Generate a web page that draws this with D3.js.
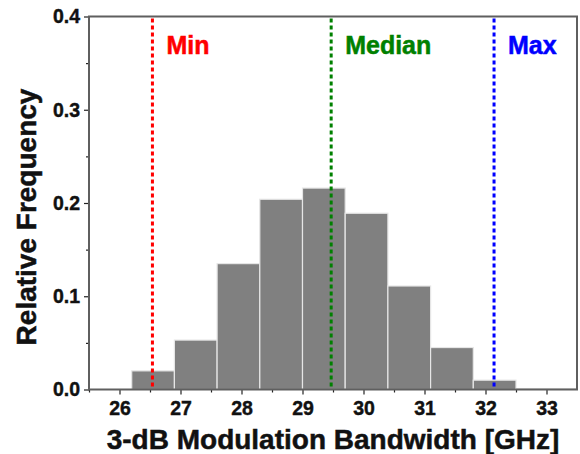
<!DOCTYPE html>
<html>
<head>
<meta charset="utf-8">
<script src="https://cdn.jsdelivr.net/npm/d3@7"></script>
<style>
  html, body { margin: 0; padding: 0; background: #fff; }
  svg { display: block; font-family: "Liberation Sans", Arial, sans-serif; }
</style>
</head>
<body>
<svg id="chart" width="580" height="454"></svg>
<script>
// Histogram bins (left edge in GHz, common width) and relative frequency
const binStarts = [26.2, 26.9, 27.6, 28.3, 29.0, 29.7, 30.4, 31.1, 31.8, 32.5, 33.2];
const binWidth = 0.7;
const frequencies = [0.020, 0.053, 0.135, 0.204, 0.216, 0.189, 0.111, 0.045, 0.010, 0.001, 0.001];

// Reference markers
const markerNames = ["Min", "Median", "Max"];
const markerValues = [26.54, 29.47, 32.14];
const markerColors = ["#ff0000", "#008000", "#0000ff"];

// Tick values
const xTicks = [26, 27, 28, 29, 30, 31, 32, 33];
const xMinorTicks = [25.5, 26.5, 27.5, 28.5, 29.5, 30.5, 31.5, 32.5];
const yTicks = [0.0, 0.1, 0.2, 0.3, 0.4];
const yMinorTicks = [0.05, 0.15, 0.25, 0.35];

const margin = { left: 89, right: 3, top: 16.5, bottom: 64.5 };
const W = 580, H = 454;
const svg = d3.select("#chart");

const x = d3.scaleLinear().domain([25.5, 33.5]).range([margin.left, W - margin.right]);
const y = d3.scaleLinear().domain([0, 0.4]).range([H - margin.bottom, margin.top]);

svg.append("clipPath").attr("id", "plot-clip")
  .append("rect")
  .attr("x", margin.left).attr("y", margin.top)
  .attr("width", W - margin.right - margin.left)
  .attr("height", H - margin.bottom - margin.top);

// Bars
svg.append("g").attr("clip-path", "url(#plot-clip)")
  .selectAll("rect")
  .data(binStarts.map((s, i) => ({ s, f: frequencies[i] })))
  .join("rect")
  .attr("x", d => x(d.s))
  .attr("width", d => x(d.s + binWidth) - x(d.s))
  .attr("y", d => y(d.f))
  .attr("height", d => y(0) - y(d.f))
  .attr("fill", "#808080")
  .attr("stroke", "#e6e6e6")
  .attr("stroke-width", 1.2);

// Dotted marker lines
svg.append("g").selectAll("line")
  .data(markerValues)
  .join("line")
  .attr("x1", d => x(d)).attr("x2", d => x(d))
  .attr("y1", y(0.4) + 2).attr("y2", y(0))
  .attr("stroke", (d, i) => markerColors[i])
  .attr("stroke-width", 3)
  .attr("stroke-dasharray", "4,3");

// Marker labels
svg.append("g").selectAll("text")
  .data(markerNames)
  .join("text")
  .attr("x", (d, i) => x(markerValues[i]) + 14)
  .attr("y", 54)
  .attr("fill", (d, i) => markerColors[i])
  .attr("stroke", (d, i) => markerColors[i])
  .attr("stroke-width", 0.5)
  .attr("font-size", 25)
  .attr("font-weight", "bold")
  .text(d => d);

// Axes
const axisColor = "#5f5f5f";
const xAxis = svg.append("g")
  .attr("transform", `translate(0,${y(0)})`)
  .call(d3.axisBottom(x).tickValues(xTicks).tickFormat(d3.format("d")).tickSize(5).tickPadding(7));
const xMinor = svg.append("g")
  .attr("transform", `translate(0,${y(0)})`)
  .call(d3.axisBottom(x).tickValues(xMinorTicks).tickFormat("").tickSize(3));
const yAxis = svg.append("g")
  .attr("transform", `translate(${x(25.5)},0)`)
  .call(d3.axisLeft(y).tickValues(yTicks).tickFormat(d3.format(".1f")).tickSize(5).tickPadding(4));
const yMinor = svg.append("g")
  .attr("transform", `translate(${x(25.5)},0)`)
  .call(d3.axisLeft(y).tickValues(yMinorTicks).tickFormat("").tickSize(3));

[xAxis, xMinor, yAxis, yMinor].forEach(g => {
  g.select(".domain").remove();
  g.selectAll(".tick line").attr("stroke", "#222").attr("stroke-width", 1.2);
  g.selectAll(".tick text")
    .attr("fill", "#111")
    .attr("stroke", "#111")
    .attr("stroke-width", 0.4)
    .attr("font-size", 19.5)
    .attr("font-weight", "bold")
    .attr("font-family", "Liberation Sans, Arial, sans-serif");
});

// Frame around plot area
svg.append("rect")
  .attr("x", x(25.5)).attr("y", y(0.4))
  .attr("width", x(33.5) - x(25.5))
  .attr("height", y(0) - y(0.4))
  .attr("fill", "none")
  .attr("stroke", axisColor)
  .attr("stroke-width", 2);

// Axis titles
svg.append("text")
  .attr("x", (x(25.5) + x(33.5)) / 2)
  .attr("y", 449)
  .attr("text-anchor", "middle")
  .attr("font-size", 28)
  .attr("font-weight", "bold")
  .attr("fill", "#111")
  .attr("stroke", "#111")
  .attr("stroke-width", 0.5)
  .text("3-dB Modulation Bandwidth [GHz]");

svg.append("text")
  .attr("transform", `translate(36,${(y(0) + y(0.4)) / 2 + 14}) rotate(-90)`)
  .attr("text-anchor", "middle")
  .attr("font-size", 28)
  .attr("font-weight", "bold")
  .attr("fill", "#111")
  .attr("stroke", "#111")
  .attr("stroke-width", 0.5)
  .text("Relative Frequency");
</script>
</body>
</html>
